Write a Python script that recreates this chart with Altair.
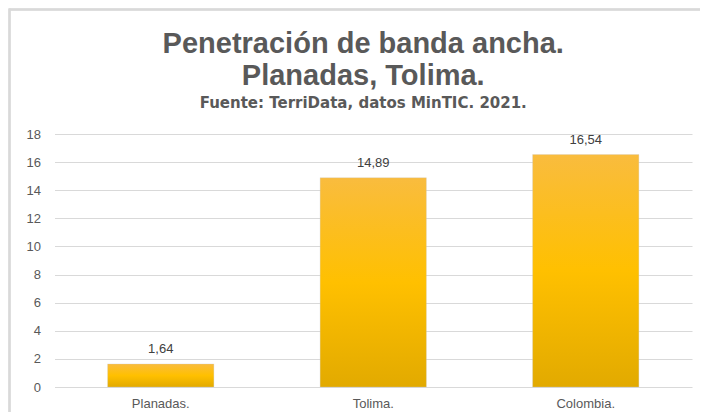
import altair as alt
import pandas as pd

categories = ["Planadas.", "Tolima.", "Colombia."]
values = [1.64, 14.89, 16.54]
labels = [f"{v:.2f}".replace(".", ",") for v in values]

df = pd.DataFrame({"cat": categories, "val": values, "lab": labels})

grad = alt.Gradient(
    gradient="linear",
    stops=[
        alt.GradientStop(color="#F9BC3E", offset=0),
        alt.GradientStop(color="#FFC000", offset=0.5),
        alt.GradientStop(color="#E2AA00", offset=1),
    ],
    x1=0, x2=0, y1=0, y2=1,
)

x = alt.X("cat:N", sort=categories, title=None,
          scale=alt.Scale(paddingInner=0.5, paddingOuter=0.25),
          axis=alt.Axis(labelAngle=0, labelFontSize=13, labelColor="#595959",
                        labelFont="Liberation Sans", ticks=False, domain=False,
                        grid=False, labelPadding=10))
y = alt.Y("val:Q", title=None,
          scale=alt.Scale(domain=[0, 18]),
          axis=alt.Axis(values=list(range(0, 19, 2)), labelFontSize=13,
                        labelColor="#595959", labelFont="Liberation Sans",
                        labelOverlap=False,
                        ticks=False, domain=False, labelPadding=14,
                        gridColor="#D9D9D9", gridWidth=1))

base = alt.Chart(df).encode(x=x, y=y)
bars = base.mark_bar(color=grad, stroke="#C9C9C9", strokeWidth=0.5, strokeOpacity=0.6)
text = base.mark_text(baseline="bottom", dy=-8, fontSize=13, color="#404040",
                      font="Liberation Sans").encode(text="lab:N")

# light frame around the whole chart area (top and left edges visible)
frame_top = alt.Chart(df).mark_rule(color="#D9D9D9", strokeWidth=2).encode(
    x=alt.value(-45), x2=alt.value(700), y=alt.value(-124.5))
frame_left = alt.Chart(df).mark_rule(color="#D9D9D9", strokeWidth=2).encode(
    x=alt.value(-45), y=alt.value(-125.5), y2=alt.value(300))

chart = (frame_top + frame_left + bars + text).properties(
    width=637.5, height=253,
    background="white",
    padding={"left": 46.5, "top": 126, "right": 8, "bottom": 25},
    autosize=alt.AutoSizeParams(type="none"),
    title=alt.TitleParams(
        text=["Penetración de banda ancha.", "Planadas, Tolima."],
        subtitle="Fuente: TerriData, datos MinTIC. 2021.",
        fontSize=29, font="Liberation Sans", fontWeight="bold", color="#595959",
        lineHeight=32,
        subtitleFontSize=15, subtitleFont="DejaVu Sans", subtitleFontWeight="bold",
        subtitleColor="#595959", subtitlePadding=5,
        anchor="middle", offset=0, dy=103, dx=-10,
    ),
).configure_view(strokeWidth=0, stroke=None)

chart.save("out.html", embed_options={"renderer": "svg", "actions": False})
